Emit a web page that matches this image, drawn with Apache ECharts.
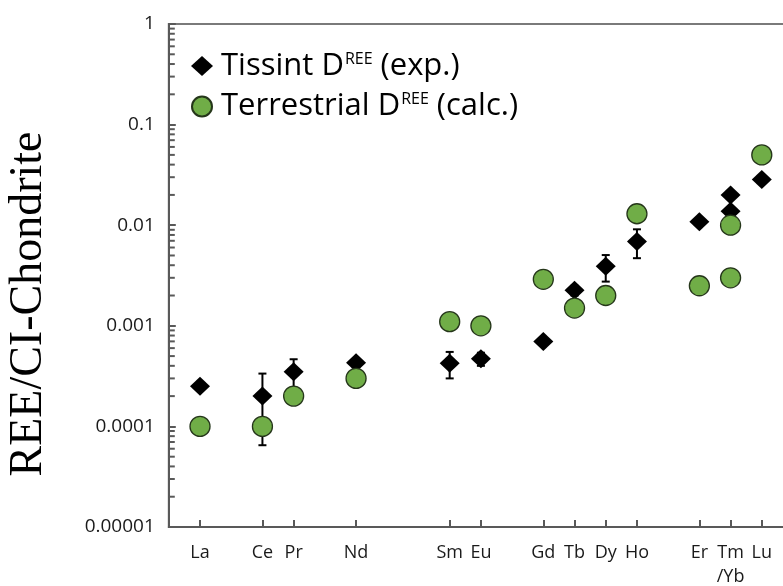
<!DOCTYPE html>
<html>
<head>
<meta charset="utf-8">
<script src="https://cdn.jsdelivr.net/npm/echarts@6/dist/echarts.min.js"></script>
<style>
html,body{margin:0;padding:0;background:#fff;}
#chart{width:783px;height:586px;}
</style>
</head>
<body>
<div id="chart"></div>
<script>
// Element slots on the x axis and their labels
const xPos   = [0, 2, 3, 5, 8, 9, 11, 12, 13, 14, 16, 17, 18];
const xNames = ['La', 'Ce', 'Pr', 'Nd', 'Sm', 'Eu', 'Gd', 'Tb', 'Dy', 'Ho', 'Er', 'Tm\n/Yb', 'Lu'];

// Tissint D(REE) experimental (La, Ce, Pr, Nd, Sm, Eu, Gd, Tb, Dy, Ho, Er, Tm, Yb, Lu)
const tissintX   = [0, 2, 3, 5, 8, 9, 11, 12, 13, 14, 16, 17, 17, 18];
const tissintY   = [2.5e-4, 2.0e-4, 3.5e-4, 4.3e-4, 4.25e-4, 4.7e-4, 7.0e-4, 2.25e-3, 3.9e-3, 6.9e-3, 1.08e-2, 2.0e-2, 1.38e-2, 2.85e-2];
const tissintErr = [0, 1.35e-4, 1.15e-4, 0, 1.25e-4, 0.7e-4, 0, 0.25e-3, 1.15e-3, 2.2e-3, 0, 0, 0, 0];

// Terrestrial D(REE) calculated
const terrX = [0, 2, 3, 5, 8, 9, 11, 12, 13, 14, 16, 17, 17, 18];
const terrY = [1.0e-4, 1.0e-4, 2.0e-4, 3.0e-4, 1.1e-3, 1.0e-3, 2.9e-3, 1.5e-3, 2.0e-3, 1.3e-2, 2.5e-3, 1.0e-2, 3.0e-3, 5.0e-2];

// Y tick labels (decades 1e-5 ... 1)
const yTickLabels = ['0.00001', '0.0001', '0.001', '0.01', '0.1', '1'];
const minorMultipliers = [2, 3, 4, 5, 6, 7, 8, 9];
const decadeExponents = [-5, -4, -3, -2, -1];

const X_MIN = -1, X_MAX = 19;
const minorTickValues = [];
decadeExponents.forEach(e => minorMultipliers.forEach(m => minorTickValues.push([X_MIN, m * Math.pow(10, e)])));

const tissintData = tissintX.map((x, i) => [x, tissintY[i]]);
const terrData = terrX.map((x, i) => [x, terrY[i]]);
const errData = [];
tissintX.forEach((x, i) => {
  if (tissintErr[i] > 0) errData.push([x, tissintY[i] - tissintErr[i], tissintY[i] + tissintErr[i]]);
});

const axisColor = '#595959';
const chart = echarts.init(document.getElementById('chart'), null, {renderer: 'canvas'});
chart.setOption({
  animation: false,
  backgroundColor: '#fff',
  grid: {left: 168.8, top: 24, right: -10, bottom: 59, outerBoundsMode: 'none', containLabel: false,
         show: true, borderColor: '#7a7a7a', borderWidth: 2, backgroundColor: 'transparent'},
  xAxis: {
    type: 'value', min: X_MIN, max: X_MAX,
    splitLine: {show: false},
    axisLine: {show: true, onZero: false, lineStyle: {color: axisColor, width: 2}},
    axisTick: {show: true, inside: true, length: 7, customValues: xPos, lineStyle: {color: axisColor, width: 2}},
    axisLabel: {
      customValues: xPos, margin: 14, color: '#1a1a1a', fontSize: 18, lineHeight: 24,
      fontFamily: 'Open Sans',
      formatter: v => { const i = xPos.indexOf(Math.round(v)); return i >= 0 ? xNames[i] : ''; }
    }
  },
  yAxis: {
    type: 'log', logBase: 10, min: 1e-5, max: 1,
    splitLine: {show: false},
    axisLine: {show: true, onZero: false, lineStyle: {color: axisColor, width: 2}},
    axisTick: {show: true, inside: true, length: 7, lineStyle: {color: axisColor, width: 2}},
    minorTick: {show: false},
    axisLabel: {
      margin: 14, color: '#1a1a1a', fontSize: 19, fontFamily: 'Open Sans',
      formatter: v => { const e = Math.round(Math.log10(v)); return yTickLabels[e + 5] || ''; }
    }
  },
  legend: {
    data: ['Tissint', 'Terrestrial'],
    orient: 'vertical', left: 186, top: 42,
    itemWidth: 22, itemHeight: 20, itemGap: 6,
    selectedMode: false,
    formatter: name => name === 'Tissint'
      ? '{b|Tissint D}{s|REE}{a| (exp.)}'
      : '{b|Terrestrial D}{s|REE}{a| (calc.)}',
    textStyle: {
      rich: {
        b: {fontSize: 31, fontFamily: 'Open Sans', color: '#000', lineHeight: 38, padding: [0, 0, 0, 3]},
        a: {fontSize: 31, fontFamily: 'Open Sans', color: '#000', lineHeight: 38},
        s: {fontSize: 16, fontFamily: 'Open Sans', color: '#000', lineHeight: 38, verticalAlign: 'top', padding: [4, 0, 0, 1]}
      }
    }
  },
  graphic: [{
    type: 'text', x: 29, y: 304, rotation: Math.PI / 2,
    style: {text: 'REE/CI-Chondrite', font: '46px "Liberation Serif"', fill: '#000', textAlign: 'center', textVerticalAlign: 'middle'}
  }],
  series: [{
    name: 'err', type: 'custom', z: 2,
    encode: {x: 0, y: [1, 2]},
    data: errData,
    renderItem: (params, api) => {
      const x = api.value(0);
      const lo = api.coord([x, api.value(1)]);
      const hi = api.coord([x, api.value(2)]);
      const cap = 4;
      const st = {stroke: '#000', lineWidth: 2};
      return {type: 'group', children: [
        {type: 'line', shape: {x1: lo[0], y1: lo[1], x2: hi[0], y2: hi[1]}, style: st},
        {type: 'line', shape: {x1: lo[0] - cap, y1: lo[1], x2: lo[0] + cap, y2: lo[1]}, style: st},
        {type: 'line', shape: {x1: hi[0] - cap, y1: hi[1], x2: hi[0] + cap, y2: hi[1]}, style: st}
      ]};
    }
  }, {
    name: 'ticks', type: 'custom', z: 2,
    encode: {x: 0, y: 1},
    data: minorTickValues,
    renderItem: (params, api) => {
      const p = api.coord([api.value(0), api.value(1)]);
      return {type: 'group', children: [
        {type: 'line', shape: {x1: p[0], y1: p[1], x2: p[0] + 6, y2: p[1]}, style: {stroke: axisColor, lineWidth: 2}}
      ]};
    }
  }, {
    name: 'Tissint', type: 'scatter', z: 3,
    symbol: 'diamond', symbolSize: [20, 19],
    itemStyle: {color: '#000', opacity: 1},
    data: tissintData
  }, {
    name: 'Terrestrial', type: 'scatter', z: 4,
    symbol: 'circle', symbolSize: 20,
    itemStyle: {color: '#70AD47', borderColor: '#25361a', borderWidth: 1.3, opacity: 1},
    data: terrData
  }]
});
</script>
</body>
</html>
